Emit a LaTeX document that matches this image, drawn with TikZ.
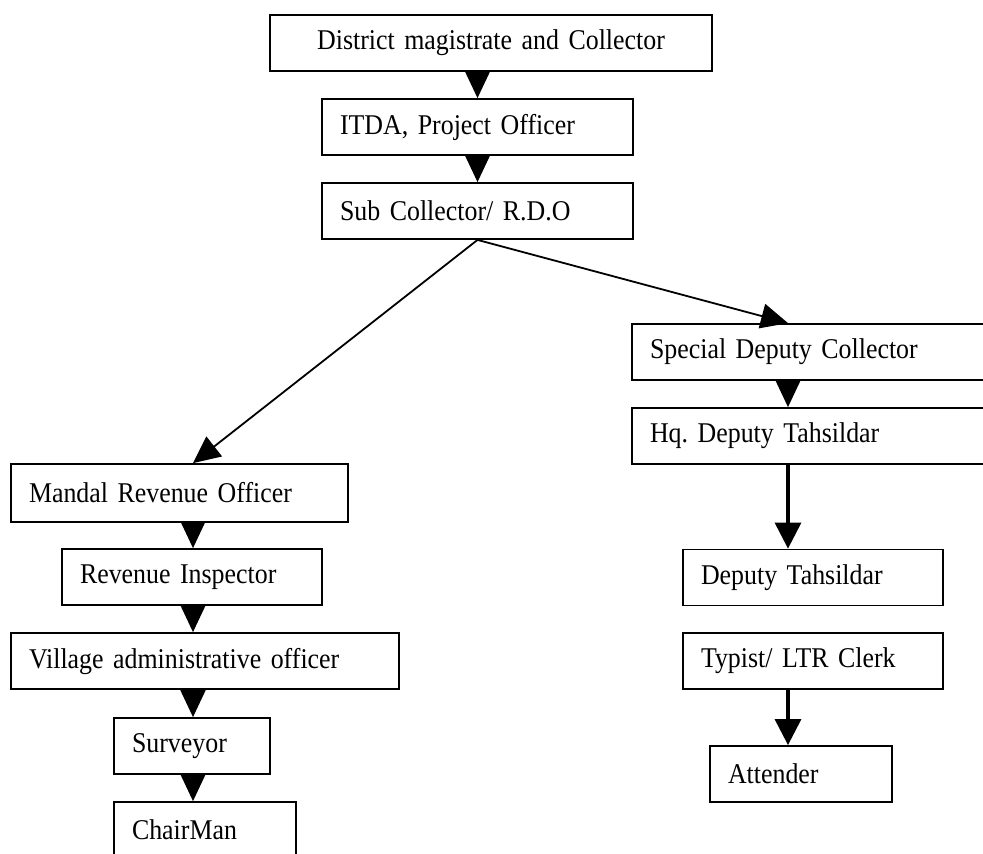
\documentclass[tikz,border=0pt]{standalone}
\usepackage{fontspec}
\setmainfont{Liberation Serif}[FakeStretch=0.905,WordSpace=0.72]
\usetikzlibrary{arrows.meta}
\tikzstyle{box}=[rectangle,draw=black,line width=0.9pt,minimum height=28pt,
  inner xsep=9pt,inner ysep=0pt,align=left,font=\fontsize{14.3}{16}\selectfont\frenchspacing]
\tikzstyle{tip}=[-{Triangle[length=13.5pt,width=12.5pt]},line width=0.9pt]
\tikzstyle{heavy}=[-{Triangle[length=13pt,width=13pt]},line width=1.6pt]
\tikzstyle{none}=[]

\begin{document}
\begin{tikzpicture}[x=0.5pt,y=-0.5pt]
            \useasboundingbox (0,0) rectangle (983,853);
            \clip (0,0) rectangle (983,853);
            \coordinate (l) at (193,0);
            \coordinate (r) at (788,0);
            \node [style=box,text width=203pt,align=center] (0) at (491,43) {District magistrate and Collector};
            \node [style=box,text width=137.5pt] (1) at (477.5,127) {ITDA, Project Officer};
            \node [style=box,text width=137.5pt] (2) at (477.5,211) {Sub Collector/ R.D.O};
            \node [style=box,text width=166pt] (3) at (816,352) {Special Deputy Collector};
            \node [style=box,text width=166pt] (4) at (816,436) {Hq. Deputy Tahsildar};
            \node [style=box,text width=150.5pt,minimum height=29pt] (5) at (179.5,493) {Mandal Revenue Officer};
            \node [style=box,text width=112pt] (6) at (192,577) {Revenue Inspector};
            \node [style=box,text width=176pt] (7) at (205,661) {Village administrative officer};
            \node [style=box,text width=60pt] (8) at (192,746) {Surveyor};
            \node [style=box,text width=73pt] (9) at (205,830) {ChairMan};
            \node [style=box,text width=112pt] (10) at (813,577.5) {Deputy Tahsildar};
            \node [style=box,text width=112pt] (11) at (813,661) {Typist/ LTR Clerk};
            \node [style=box,text width=73pt] (12) at (801,774) {Attender};
            \draw [style=tip] (0.south -| 1.north) to (1.north);
            \draw [style=tip] (1.south) to (2.north);
            \draw [style=tip] (2.south) to (5.north -| l);
            \draw [style=tip] (2.south) to (3.north -| r);
            \draw [style=tip] (3.south -| r) to (4.north -| r);
            \draw [style=heavy] (4.south -| r) to (10.north -| r);
            \draw [style=heavy] (11.south -| r) to (12.north -| r);
            \draw [style=tip] (5.south -| l) to (6.north -| l);
            \draw [style=tip] (6.south -| l) to (7.north -| l);
            \draw [style=tip] (7.south -| l) to (8.north -| l);
            \draw [style=tip] (8.south -| l) to (9.north -| l);
    \end{tikzpicture}
\end{document}
